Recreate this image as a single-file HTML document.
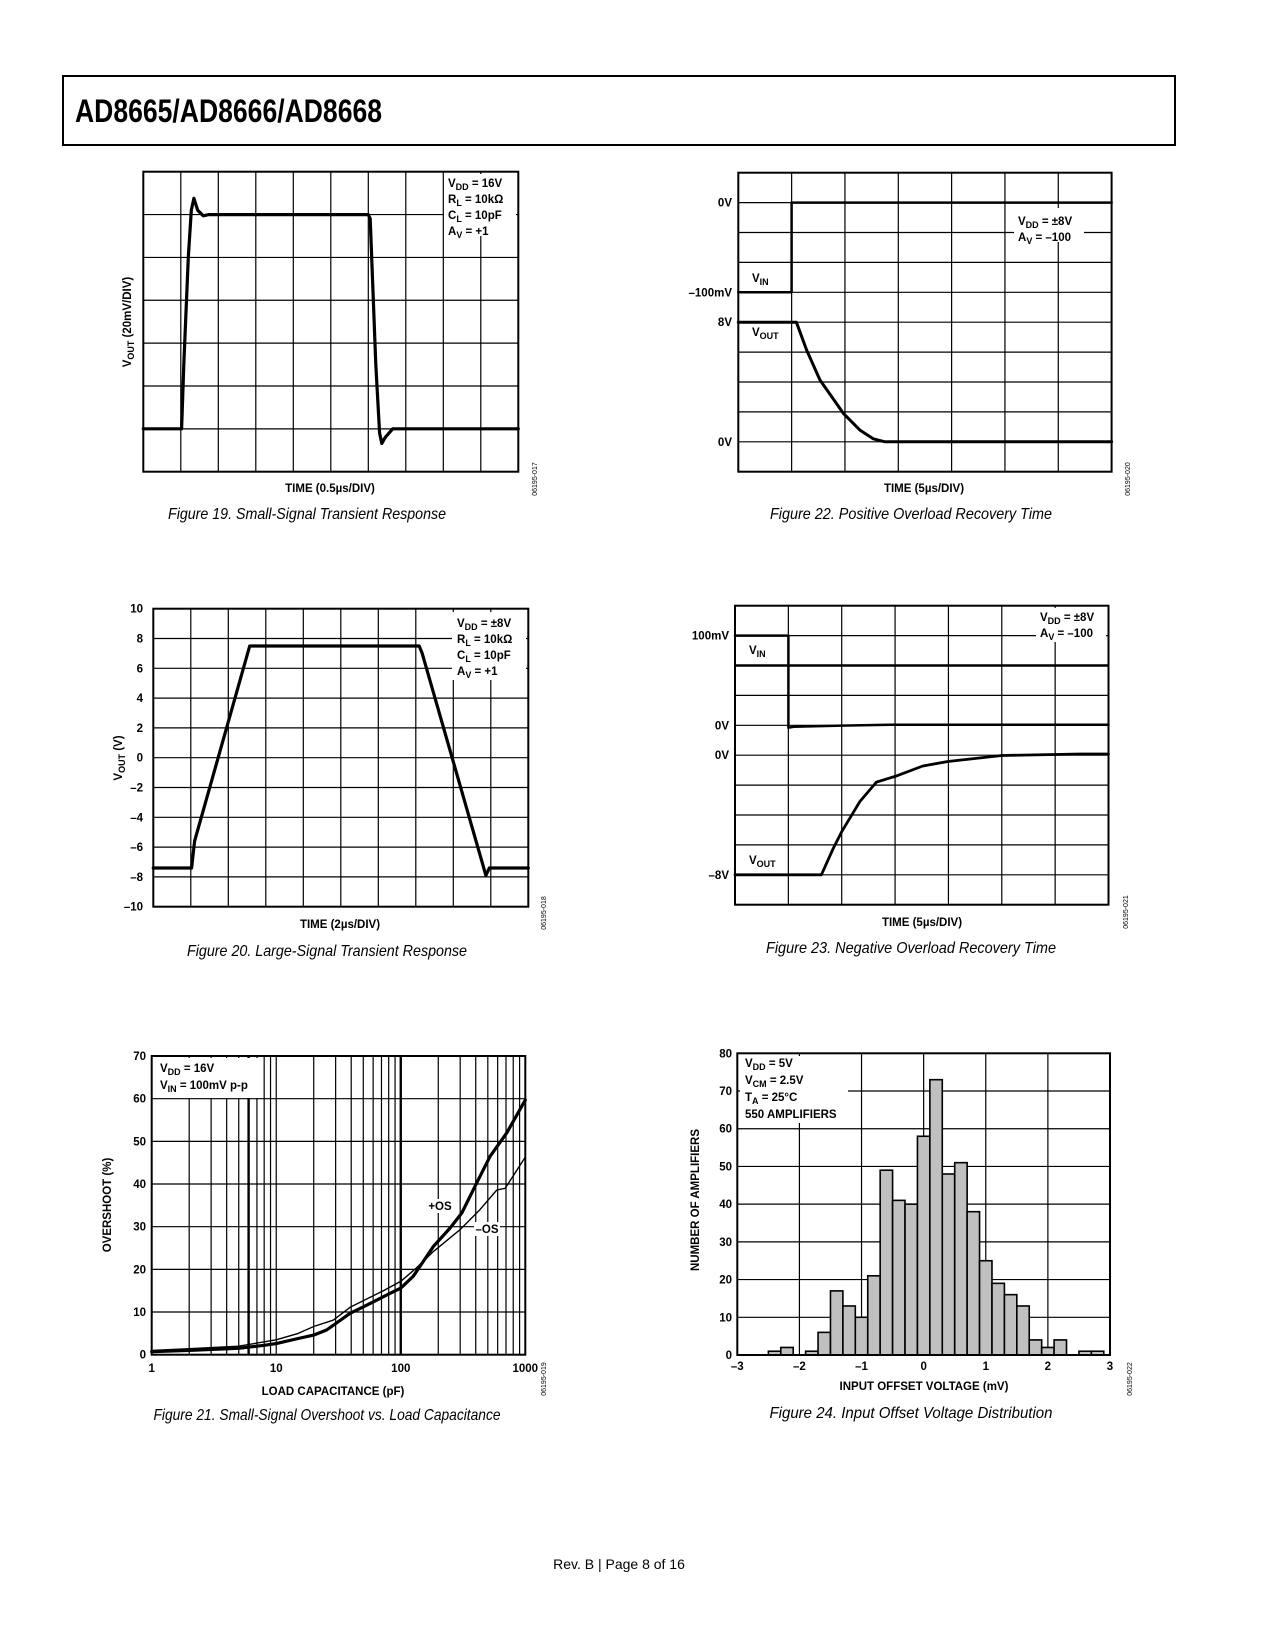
<!DOCTYPE html>
<html><head><meta charset="utf-8"><style>
html,body{margin:0;padding:0;background:#fff;}
svg{display:block;}
text{font-family:"Liberation Sans",Arial,sans-serif;}
</style></head><body>
<svg id="page" xmlns="http://www.w3.org/2000/svg" width="1275" height="1650" viewBox="0 0 1275 1650">
<rect x="0" y="0" width="1275" height="1650" fill="#fff"/>
<rect x="63" y="76" width="1112" height="69" fill="none" stroke="#000" stroke-width="2"/>
<text x="75" y="122" font-size="32" font-weight="bold" font-family="Liberation Sans Narrow, Liberation Sans, sans-serif" textLength="307" lengthAdjust="spacingAndGlyphs">AD8665/AD8666/AD8668</text>
<text x="619" y="1569" font-size="14" text-anchor="middle">Rev. B | Page 8 of 16</text>
</svg>
<script>
// ---------- DATA ----------
// Fig 19 small-signal transient (time in divisions, level in divisions from bottom)
const f19Time = [0, 1.02, 1.08, 1.2, 1.28, 1.35, 1.45, 1.6, 1.75, 6.0, 6.05, 6.2, 6.3, 6.36, 6.45, 6.65, 10];
const f19Level = [1, 1, 2.5, 5, 6.1, 6.38, 6.1, 5.97, 6.0, 6.0, 5.9, 2.5, 0.9, 0.66, 0.8, 1.0, 1.0];
// Fig 22 positive overload (divisions)
const f22InTime = [0, 1, 1, 7];
const f22InLevel = [6, 6, 9, 9];
const f22OutTime = [0, 1.09, 1.28, 1.53, 1.97, 2.28, 2.53, 2.75, 7];
const f22OutLevel = [5, 5, 4.07, 3.07, 1.95, 1.39, 1.1, 1.0, 1.0];
// Fig 20 large-signal transient (µs, V)
const f20Time = [0, 2.04, 2.2, 5.14, 14.18, 14.34, 17.74, 17.92, 20];
const f20Volts = [-7.4, -7.4, -5.6, 7.5, 7.5, 7.0, -7.9, -7.4, -7.4];
const f20YTicks = [10, 8, 6, 4, 2, 0, -2, -4, -6, -8, -10];
// Fig 23 negative overload (divisions)
const f23InTime = [0, 1, 1, 1.1, 2, 3, 7];
const f23InLevel = [9, 9, 5.92, 5.95, 5.99, 6.02, 6.02];
const f23OutTime = [0, 1.62, 1.84, 2.0, 2.34, 2.65, 3.0, 3.52, 3.99, 5.0, 6.46, 7];
const f23OutLevel = [1, 1, 1.88, 2.44, 3.45, 4.1, 4.29, 4.64, 4.79, 4.99, 5.04, 5.04];
// Fig 21 overshoot vs load capacitance
const f21CapPos = [1, 2, 5, 8, 10, 15, 20, 25.4, 39.2, 53.3, 72.6, 100, 126, 183, 249, 309, 408, 522, 710, 1000];
const f21PosOS = [0.7, 1.0, 1.5, 2.2, 2.6, 3.8, 4.6, 5.8, 9.7, 11.6, 13.6, 15.6, 18.4, 25.4, 29.7, 33.2, 40.3, 46.5, 52.0, 59.7];
const f21CapNeg = [1, 2, 5, 10, 15, 20, 28.8, 39.2, 72.6, 100, 133, 183, 299, 433, 590, 690, 1000];
const f21NegOS = [1.0, 1.4, 2.0, 3.5, 5.0, 6.6, 8.1, 11.1, 15.0, 17.2, 20.3, 24.2, 29.3, 34.0, 38.6, 39.0, 46.3];
const f21YTicks = [0, 10, 20, 30, 40, 50, 60, 70];
const f21XTicks = [1, 10, 100, 1000];
// Fig 24 histogram (bin left edges in mV, counts)
const f24BinStart = [-2.5, -2.3, -2.1, -1.9, -1.7, -1.5, -1.3, -1.1, -0.9, -0.7, -0.5, -0.3, -0.1, 0.1, 0.3, 0.5, 0.7, 0.9, 1.1, 1.3, 1.5, 1.7, 1.9, 2.1, 2.3, 2.5, 2.7];
const f24Counts = [1, 2, 0, 1, 6, 17, 13, 10, 21, 49, 41, 40, 58, 73, 48, 51, 38, 25, 19, 16, 13, 4, 2, 4, 0, 1, 1];
const f24YTicks = [0, 10, 20, 30, 40, 50, 60, 70, 80];
const f24XTicks = [-3, -2, -1, 0, 1, 2, 3];

// ---------- HELPERS ----------
const NS = 'http://www.w3.org/2000/svg';
const page = document.getElementById('page');
function mk(tag, attrs, parent, name) {
  const el = document.createElementNS(NS, tag);
  for (const k in attrs) el.setAttribute(k, attrs[k]);
  
  
  parent.appendChild(el);
  return el;
}
function group(name) { return mk('g', {}, page, name); }
function ln(p, x1, y1, x2, y2, w, name) {
  return mk('line', {x1: x1, y1: y1, x2: x2, y2: y2, stroke: '#000', 'stroke-width': w}, p, name);
}
function txt(p, x, y, s, size, anchor, name, extra) {
  const a = {x: x, y: y, 'font-size': size, 'font-weight': 'bold', 'text-anchor': anchor || 'start'};
  if (extra) for (const k in extra) a[k] = extra[k];
  const t = mk('text', a, p, name);
  t.textContent = s;
  return t;
}
function rich(p, x, y, parts, size, anchor, name, extra) {
  const a = {x: x, y: y, 'font-size': size, 'font-weight': 'bold', 'text-anchor': anchor || 'start'};
  if (extra) for (const k in extra) a[k] = extra[k];
  const t = mk('text', a, p, name);
  let shifted = false;
  parts.forEach(pt => {
    const ts = document.createElementNS(NS, 'tspan');
    if (pt[1] === 'sub') { ts.setAttribute('font-size', size * 0.78); ts.setAttribute('dy', 3); shifted = true; }
    else if (shifted) { ts.setAttribute('dy', -3); shifted = false; }
    ts.textContent = pt[0];
    t.appendChild(ts);
  });
  return t;
}
function caption(x, y, s, len, name) {
  const t = mk('text', {x: x, y: y, 'font-size': 16, 'font-style': 'italic', 'text-anchor': 'middle', textLength: len, lengthAdjust: 'spacingAndGlyphs'}, page, name);
  t.textContent = s;
}
function figNum(x, y, s, name) {
  const t = mk('text', {x: x, y: y, 'font-size': 7, 'text-anchor': 'middle', transform: 'rotate(-90 ' + x + ' ' + y + ')'}, page, name);
  t.textContent = s;
}
function grid(p, x0, y0, w, h, nc, nr) {
  for (let i = 1; i < nc; i++) ln(p, x0 + w * i / nc, y0, x0 + w * i / nc, y0 + h, 1.2, 'grid-vline');
  for (let j = 1; j < nr; j++) ln(p, x0, y0 + h * j / nr, x0 + w, y0 + h * j / nr, 1.2, 'grid-hline');
}
function frame(p, x0, y0, w, h) {
  mk('rect', {x: x0, y: y0, width: w, height: h, fill: 'none', stroke: '#000', 'stroke-width': 2}, p, 'plot-frame');
}
function poly(p, xs, ys, fx, fy, w, name) {
  const pts = xs.map((v, i) => fx(v).toFixed(1) + ',' + fy(ys[i]).toFixed(1)).join(' ');
  return mk('polyline', {points: pts, fill: 'none', stroke: '#000', 'stroke-width': w, 'stroke-linejoin': 'round', 'stroke-linecap': 'round'}, p, name);
}
function whiteBox(p, x, y, w, h, name) {
  return mk('rect', {x: x, y: y, width: w, height: h, fill: '#fff'}, p, name);
}

// ---------- FIG 19 ----------
(function () {
  const g = group('figure-19-small-signal-transient');
  const X0 = 143.3, Y0 = 171.7, W = 375, H = 300;
  const fx = t => X0 + t / 10 * W, fy = v => Y0 + H - v / 7 * H;
  grid(g, X0, Y0, W, H, 10, 7);
  whiteBox(g, 444, 174, 72, 62, 'legend-background');
  poly(g, f19Time, f19Level, fx, fy, 3.2, 'vout-trace');
  frame(g, X0, Y0, W, H);
  rich(g, 448, 187, [['V'], ['DD', 'sub'], [' = 16V']], 11.5, 'start', 'legend-vdd');
  rich(g, 448, 203, [['R'], ['L', 'sub'], [' = 10k\u03A9']], 11.5, 'start', 'legend-rl');
  rich(g, 448, 219, [['C'], ['L', 'sub'], [' = 10pF']], 11.5, 'start', 'legend-cl');
  rich(g, 448, 235, [['A'], ['V', 'sub'], [' = +1']], 11.5, 'start', 'legend-av');
  txt(g, 330, 492, 'TIME (0.5\u00B5s/DIV)', 11.5, 'middle', 'x-axis-title');
  rich(g, 131, 322, [['V'], ['OUT', 'sub'], [' (20mV/DIV)']], 11.5, 'middle', 'y-axis-title', {transform: 'rotate(-90 131 322)'});
})();
caption(307, 519, 'Figure 19. Small-Signal Transient Response', 278, 'figure-19-caption');
figNum(537, 479, '06195-017', 'figure-19-id');

// ---------- FIG 22 ----------
(function () {
  const g = group('figure-22-positive-overload');
  const X0 = 738.3, Y0 = 172.7, W = 373.3, H = 299;
  const fx = t => X0 + t / 7 * W, fy = v => Y0 + H - v / 10 * H;
  grid(g, X0, Y0, W, H, 7, 10);
  whiteBox(g, 1014, 208, 70, 34, 'legend-background');
  poly(g, f22InTime, f22InLevel, fx, fy, 2.5, 'vin-trace');
  poly(g, f22OutTime, f22OutLevel, fx, fy, 3, 'vout-trace');
  frame(g, X0, Y0, W, H);
  txt(g, 732, fy(9) + 4, '0V', 11.5, 'end', 'y-label-vin-0v');
  txt(g, 732, fy(6) + 4, '\u2013100mV', 11.5, 'end', 'y-label-vin-minus100mv');
  txt(g, 732, fy(5) + 4, '8V', 11.5, 'end', 'y-label-vout-8v');
  txt(g, 732, fy(1) + 4, '0V', 11.5, 'end', 'y-label-vout-0v');
  rich(g, 752, 282, [['V'], ['IN', 'sub']], 11.5, 'start', 'vin-label');
  rich(g, 752, 336, [['V'], ['OUT', 'sub']], 11.5, 'start', 'vout-label');
  rich(g, 1018, 225, [['V'], ['DD', 'sub'], [' = \u00B18V']], 11.5, 'start', 'legend-vdd');
  rich(g, 1018, 241, [['A'], ['V', 'sub'], [' = \u2013100']], 11.5, 'start', 'legend-av');
  txt(g, 924, 492, 'TIME (5\u00B5s/DIV)', 11.5, 'middle', 'x-axis-title');
})();
caption(911, 519, 'Figure 22. Positive Overload Recovery Time', 282, 'figure-22-caption');
figNum(1130, 479, '06195-020', 'figure-22-id');

// ---------- FIG 20 ----------
(function () {
  const g = group('figure-20-large-signal-transient');
  const X0 = 153.3, Y0 = 608.7, W = 375, H = 298;
  const fx = t => X0 + t / 20 * W, fy = v => Y0 + (10 - v) / 20 * H;
  grid(g, X0, Y0, W, H, 10, 10);
  whiteBox(g, 452, 612, 74, 68, 'legend-background');
  poly(g, f20Time, f20Volts, fx, fy, 3.2, 'vout-trace');
  frame(g, X0, Y0, W, H);
  f20YTicks.forEach(v => {
    txt(g, 143, fy(v) + 4, v < 0 ? '\u2013' + Math.abs(v) : String(v), 11.5, 'end', 'y-tick-label');
  });
  rich(g, 457, 627, [['V'], ['DD', 'sub'], [' = \u00B18V']], 11.5, 'start', 'legend-vdd');
  rich(g, 457, 643, [['R'], ['L', 'sub'], [' = 10k\u03A9']], 11.5, 'start', 'legend-rl');
  rich(g, 457, 659, [['C'], ['L', 'sub'], [' = 10pF']], 11.5, 'start', 'legend-cl');
  rich(g, 457, 675, [['A'], ['V', 'sub'], [' = +1']], 11.5, 'start', 'legend-av');
  txt(g, 340, 928, 'TIME (2\u00B5s/DIV)', 11.5, 'middle', 'x-axis-title');
  rich(g, 122, 758, [['V'], ['OUT', 'sub'], [' (V)']], 11.5, 'middle', 'y-axis-title', {transform: 'rotate(-90 122 758)'});
})();
caption(327, 956, 'Figure 20. Large-Signal Transient Response', 280, 'figure-20-caption');
figNum(546, 913, '06195-018', 'figure-20-id');

// ---------- FIG 23 ----------
(function () {
  const g = group('figure-23-negative-overload');
  const X0 = 735, Y0 = 605.7, W = 373.5, H = 299;
  const fx = t => X0 + t / 7 * W, fy = v => Y0 + H - v / 10 * H;
  grid(g, X0, Y0, W, H, 7, 10);
  whiteBox(g, 1036, 608, 70, 34, 'legend-background');
  ln(g, X0, fy(8), X0 + W, fy(8), 2.5, 'vin-reference-line');
  poly(g, f23InTime, f23InLevel, fx, fy, 2.5, 'vin-trace');
  poly(g, f23OutTime, f23OutLevel, fx, fy, 2.8, 'vout-trace');
  frame(g, X0, Y0, W, H);
  txt(g, 729, fy(9) + 4, '100mV', 11.5, 'end', 'y-label-vin-100mv');
  txt(g, 729, fy(6) + 4, '0V', 11.5, 'end', 'y-label-vin-0v');
  txt(g, 729, fy(5) + 4, '0V', 11.5, 'end', 'y-label-vout-0v');
  txt(g, 729, fy(1) + 4, '\u20138V', 11.5, 'end', 'y-label-vout-minus8v');
  rich(g, 749, 654, [['V'], ['IN', 'sub']], 11.5, 'start', 'vin-label');
  rich(g, 749, 864, [['V'], ['OUT', 'sub']], 11.5, 'start', 'vout-label');
  rich(g, 1040, 621, [['V'], ['DD', 'sub'], [' = \u00B18V']], 11.5, 'start', 'legend-vdd');
  rich(g, 1040, 637, [['A'], ['V', 'sub'], [' = \u2013100']], 11.5, 'start', 'legend-av');
  txt(g, 922, 926, 'TIME (5\u00B5s/DIV)', 11.5, 'middle', 'x-axis-title');
})();
caption(911, 953, 'Figure 23. Negative Overload Recovery Time', 290, 'figure-23-caption');
figNum(1128, 912, '06195-021', 'figure-23-id');

// ---------- FIG 21 ----------
(function () {
  const g = group('figure-21-overshoot-vs-capacitance');
  const X0 = 151.7, Y0 = 1056, W = 373.6, H = 298.7;
  const fx = c => X0 + Math.log10(c) / 3 * W, fy = v => Y0 + H - v / 70 * H;
  for (let d = 1; d <= 100; d *= 10) {
    for (let m = 2; m <= 10; m++) {
      const c = d * m;
      if (c >= 1000) continue;
      const thick = (c === 6 || c === 100);
      ln(g, fx(c), Y0, fx(c), Y0 + H, thick ? 2.4 : 1.2, 'grid-vline');
    }
  }
  f21YTicks.forEach(v => { if (v > 0 && v < 70) ln(g, X0, fy(v), X0 + W, fy(v), 1.2, 'grid-hline'); });
  whiteBox(g, 154, 1058, 109, 40, 'legend-background');
  whiteBox(g, 433, 1199, 26, 14, 'label-background-pos');
  whiteBox(g, 474, 1222, 26, 14, 'label-background-neg');
  poly(g, f21CapNeg, f21NegOS, fx, fy, 1.4, 'negative-overshoot-line');
  poly(g, f21CapPos, f21PosOS, fx, fy, 3.2, 'positive-overshoot-line');
  frame(g, X0, Y0, W, H);
  f21YTicks.forEach(v => txt(g, 146, fy(v) + 4, String(v), 11.5, 'end', 'y-tick-label'));
  f21XTicks.forEach(c => txt(g, fx(c), 1372, String(c), 11.5, 'middle', 'x-tick-label'));
  rich(g, 160, 1072, [['V'], ['DD', 'sub'], [' = 16V']], 11.5, 'start', 'legend-vdd');
  rich(g, 160, 1089, [['V'], ['IN', 'sub'], [' = 100mV p-p']], 11.5, 'start', 'legend-vin');
  txt(g, 440, 1210, '+OS', 11.5, 'middle', 'positive-overshoot-label');
  txt(g, 487, 1233, '\u2013OS', 11.5, 'middle', 'negative-overshoot-label');
  txt(g, 333, 1395, 'LOAD CAPACITANCE (pF)', 11.5, 'middle', 'x-axis-title');
  txt(g, 111, 1205, 'OVERSHOOT (%)', 11.5, 'middle', 'y-axis-title', {transform: 'rotate(-90 111 1205)'});
})();
caption(327, 1420, 'Figure 21. Small-Signal Overshoot vs. Load Capacitance', 347, 'figure-21-caption');
figNum(546, 1379, '06195-019', 'figure-21-id');

// ---------- FIG 24 ----------
(function () {
  const g = group('figure-24-offset-histogram');
  const X0 = 737.3, Y0 = 1053.3, W = 372.7, H = 301.7;
  const fx = v => X0 + (v + 3) / 6 * W, fy = n => Y0 + H - n / 80 * H;
  f24XTicks.forEach(v => { if (v > -3 && v < 3) ln(g, fx(v), Y0, fx(v), Y0 + H, 1.2, 'grid-vline'); });
  f24YTicks.forEach(n => { if (n > 0 && n < 80) ln(g, X0, fy(n), X0 + W, fy(n), 1.2, 'grid-hline'); });
  whiteBox(g, 740, 1056, 108, 67, 'legend-background');
  f24BinStart.forEach((b, i) => {
    const n = f24Counts[i];
    if (n <= 0) return;
    const x = fx(b), w = fx(b + 0.2) - fx(b);
    mk('rect', {x: x, y: fy(n), width: w, height: fy(0) - fy(n), fill: '#c0c0c0', stroke: '#000', 'stroke-width': 1.6}, g, 'histogram-bar');
  });
  frame(g, X0, Y0, W, H);
  f24YTicks.forEach(n => txt(g, 732, fy(n) + 4, String(n), 11.5, 'end', 'y-tick-label'));
  f24XTicks.forEach(v => txt(g, fx(v), 1370, v < 0 ? '\u2013' + Math.abs(v) : String(v), 11.5, 'middle', 'x-tick-label'));
  rich(g, 745, 1067, [['V'], ['DD', 'sub'], [' = 5V']], 11.5, 'start', 'legend-vdd');
  rich(g, 745, 1084, [['V'], ['CM', 'sub'], [' = 2.5V']], 11.5, 'start', 'legend-vcm');
  rich(g, 745, 1101, [['T'], ['A', 'sub'], [' = 25\u00B0C']], 11.5, 'start', 'legend-ta');
  txt(g, 745, 1118, '550 AMPLIFIERS', 11.5, 'start', 'legend-count');
  txt(g, 924, 1390, 'INPUT OFFSET VOLTAGE (mV)', 11.5, 'middle', 'x-axis-title');
  txt(g, 699, 1200, 'NUMBER OF AMPLIFIERS', 11.5, 'middle', 'y-axis-title', {transform: 'rotate(-90 699 1200)'});
})();
caption(911, 1418, 'Figure 24. Input Offset Voltage Distribution', 283, 'figure-24-caption');
figNum(1132, 1379, '06195-022', 'figure-24-id');
</script>
</body></html>
